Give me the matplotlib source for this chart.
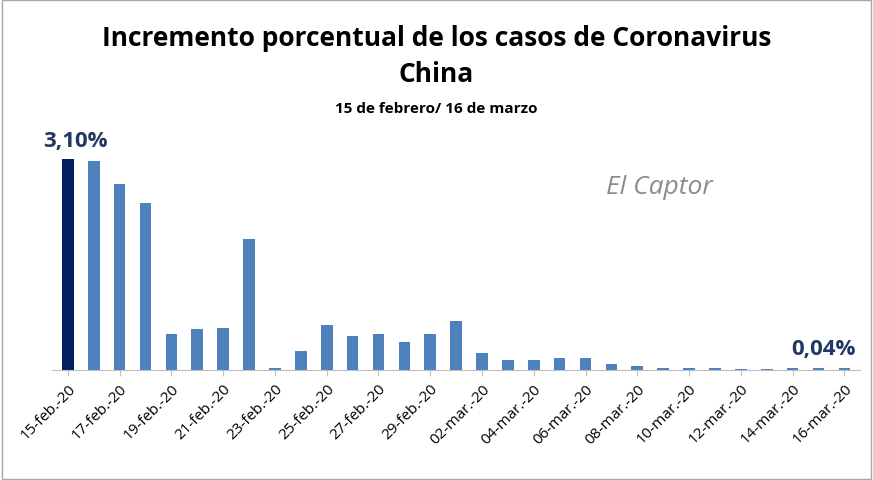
import matplotlib.pyplot as plt
import pandas as pd

# daily % increase of cases, China
dates = pd.date_range("2020-02-15", "2020-03-16", freq="D")
values = [3.10, 3.07, 2.73, 2.45, 0.54, 0.60, 0.62, 1.93, 0.03, 0.28,
          0.66, 0.51, 0.54, 0.41, 0.53, 0.72, 0.25, 0.15, 0.15, 0.18,
          0.18, 0.09, 0.06, 0.03, 0.03, 0.03, 0.02, 0.02, 0.03, 0.03, 0.04]
months = {2: "feb.", 3: "mar."}
tick_labels = [f"{d.day:02d}-{months[d.month]}-20" for d in dates]

plt.rcParams["font.family"] = "Open Sans"
fig = plt.figure(figsize=(8.73, 4.81), dpi=100)
ax = fig.add_axes([0.06, 0.228, 0.925, 0.48])

x = range(len(values))
colors = ["#002060"] + ["#4f81bd"] * (len(values) - 1)
ax.bar(x, values, width=0.45, color=colors)
ax.set_xlim(-0.6, len(values) - 0.4)
ax.set_ylim(0, 3.39)
ax.set_yticks([])
for s in ["top", "right", "left"]:
    ax.spines[s].set_visible(False)
ax.spines["bottom"].set_color("#bfbfbf")
ax.set_xticks(list(x)[::2])
ax.set_xticklabels(tick_labels[::2], rotation=45, ha="right", rotation_mode="anchor", fontsize=11)
ax.tick_params(axis="x", length=4, color="#bfbfbf")

ax.text(0.3, values[0] + 0.12, "3,10%", ha="center", va="bottom", fontsize=16,
        fontweight="bold", color="#1f3864")
ax.text(len(values) - 1.8, values[-1] + 0.12, "0,04%", ha="center", va="bottom",
        fontsize=16, fontweight="bold", color="#1f3864")
ax.text(20.8, 2.6, "El Captor", fontsize=19, style="italic", color="#8c8c8c")

fig.text(0.5, 0.905, "Incremento porcentual de los casos de Coronavirus", ha="center",
         fontsize=19, fontweight="bold")
fig.text(0.5, 0.83, "China", ha="center", fontsize=19, fontweight="bold")
fig.text(0.5, 0.765, "15 de febrero/ 16 de marzo", ha="center", fontsize=11, fontweight="bold")

fig.patches.append(plt.Rectangle((0.002, 0.002), 0.996, 0.996, transform=fig.transFigure,
                                 fill=False, edgecolor="#a6a6a6", linewidth=1))
fig.savefig("out.png", dpi=100)
